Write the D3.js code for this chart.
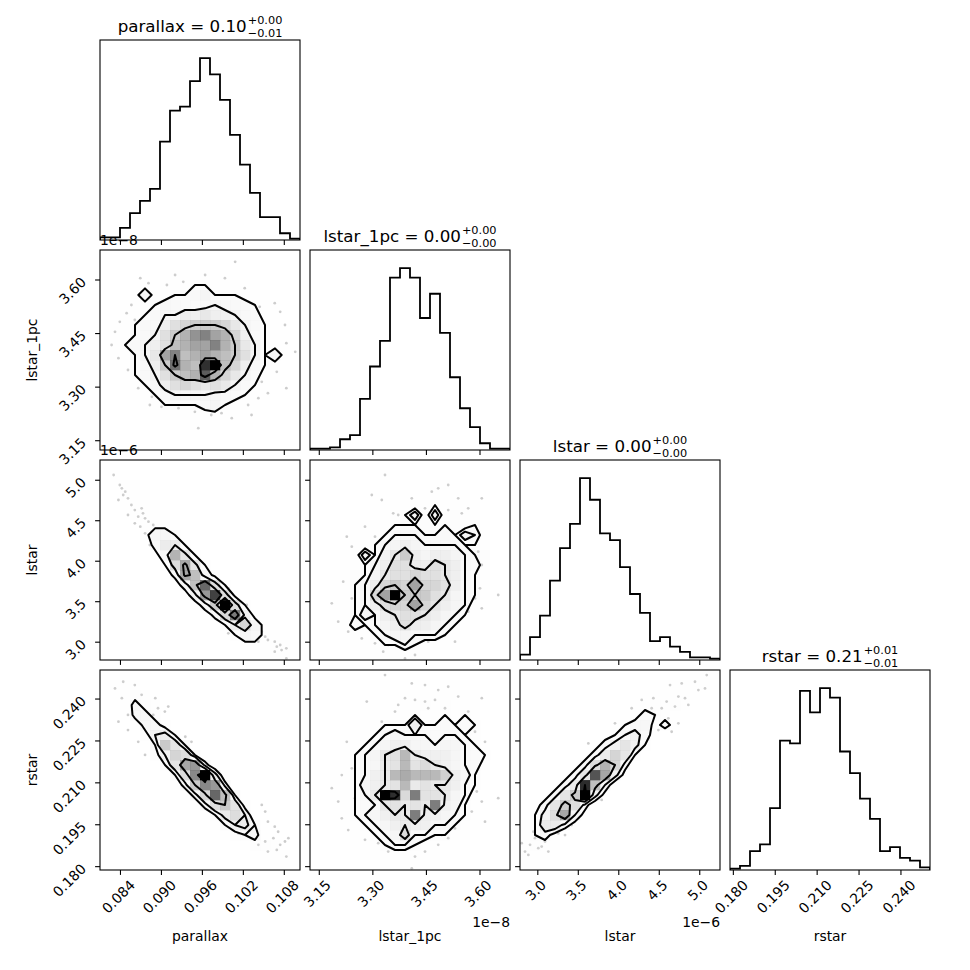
<!DOCTYPE html>
<html>
<head>
<meta charset="utf-8">
<script src="https://cdn.jsdelivr.net/npm/d3@7"></script>
<style>
  body { margin: 0; background: #fff; }
  svg text { font-family: "DejaVu Sans", sans-serif; fill: #000; }
</style>
</head>
<body>
<div id="chart"></div>
<script>
// ---- data ----
const labels = ["parallax", "lstar_1pc", "lstar", "rstar"];
// axis range of every parameter (lstar_1pc in 1e-8, lstar in 1e-6)
const ranges = [[0.0810, 0.1103], [3.124, 3.684], [2.78, 5.25], [0.1788, 0.2504]];
const ticks = [
  [0.084, 0.090, 0.096, 0.102, 0.108],
  [3.15, 3.30, 3.45, 3.60],
  [3.0, 3.5, 4.0, 4.5, 5.0],
  [0.180, 0.195, 0.210, 0.225, 0.240]
];
const tickDigits = [3, 2, 1, 3];
const offsetTexts = ["", "1e\u22128", "1e\u22126", ""];
const titleValues = ["0.10", "0.00", "0.00", "0.21"];
const titlePlus = ["+0.00", "+0.00", "+0.00", "+0.01"];
const titleMinus = ["\u22120.01", "\u22120.00", "\u22120.00", "\u22120.01"];

// 1d histogram counts, 20 bins each
const histParallax = [2, 2, 9, 20, 29, 38, 73, 96, 99, 118, 135, 123, 104, 78, 56, 35, 17, 17, 5, 1];
const histLstar1pc = [1, 1, 2, 8, 11, 38, 62, 81, 128, 135, 128, 98, 116, 87, 54, 31, 17, 5, 1, 1];
const histLstar = [4, 17, 33, 59, 83, 101, 135, 119, 94, 89, 69, 49, 35, 14, 17, 10, 6, 2, 2, 1];
const histRstar = [1, 3, 14, 19, 46, 96, 94, 133, 117, 135, 128, 88, 72, 53, 38, 14, 17, 9, 7, 2];

// 2d histogram counts, 20x20, rows listed from the top of the panel (high y) down
const gridParallaxLstar1pc = [
  [0,0,0,0,0,0,0,0,0,0,0,0,0,0,0,0,0,0,0,0],
  [0,0,0,0,0,0,0,0,0,0,1,0,0,0,0,0,0,0,0,0],
  [0,0,0,0,0,0,1,1,1,0,1,0,1,0,0,0,0,0,0,0],
  [0,0,0,0,1,0,1,1,1,2,2,1,1,1,0,1,0,0,0,0],
  [0,0,0,1,4,1,1,2,2,3,4,2,2,2,1,1,1,0,0,0],
  [0,0,1,1,1,2,3,3,3,3,3,4,3,3,3,2,1,1,0,0],
  [0,0,1,1,2,3,4,4,5,5,6,5,5,4,3,3,1,1,0,0],
  [0,1,1,2,3,3,5,7,8,9,9,9,8,6,4,3,2,1,0,0],
  [0,1,1,2,3,4,7,9,11,13,14,12,11,8,5,3,2,1,1,0],
  [0,1,2,3,4,5,7,10,11,12,12,14,11,9,6,4,2,1,0,0],
  [0,1,1,2,4,6,12,14,10,11,12,11,10,9,7,4,2,4,1,0],
  [0,1,1,2,3,5,9,15,11,10,18,20,10,8,5,3,2,1,0,0],
  [0,0,1,2,3,4,7,9,10,11,16,11,8,6,4,3,1,1,0,0],
  [0,0,1,1,2,3,5,7,8,7,6,7,6,4,3,2,1,0,0,0],
  [0,0,0,1,1,2,3,4,4,4,4,3,3,3,2,1,1,0,0,0],
  [0,0,0,0,1,1,2,2,2,2,3,4,2,1,1,1,0,0,0,0],
  [0,0,0,0,0,1,1,1,1,1,1,1,1,1,0,0,0,0,0,0],
  [0,0,0,0,0,0,0,1,0,1,0,1,0,0,0,0,0,0,0,0],
  [0,0,0,0,0,0,0,0,1,0,0,0,0,0,0,0,0,0,0,0],
  [0,0,0,0,0,0,0,0,0,0,0,0,0,0,0,0,0,0,0,0]
];
const gridParallaxLstar = [
  [0,0,0,0,0,0,0,0,0,0,0,0,0,0,0,0,0,0,0,0],
  [0,1,0,0,0,0,0,0,0,0,0,0,0,0,0,0,0,0,0,0],
  [0,1,1,1,0,0,0,0,0,0,0,0,0,0,0,0,0,0,0,0],
  [0,0,1,1,1,0,0,0,0,0,0,0,0,0,0,0,0,0,0,0],
  [0,0,1,1,1,1,0,0,0,0,0,0,0,0,0,0,0,0,0,0],
  [0,0,0,1,1,1,1,0,0,0,0,0,0,0,0,0,0,0,0,0],
  [0,0,0,0,1,1,1,1,0,0,0,0,0,0,0,0,0,0,0,0],
  [0,0,0,0,1,4,4,2,0,0,0,0,0,0,0,0,0,0,0,0],
  [0,0,0,0,0,3,6,6,2,0,0,0,0,0,0,0,0,0,0,0],
  [0,0,0,0,0,1,4,12,7,2,0,0,0,0,0,0,0,0,0,0],
  [0,0,0,0,0,0,2,8,13,7,2,0,0,0,0,0,0,0,0,0],
  [0,0,0,0,0,0,0,3,13,11,4,1,0,0,0,0,0,0,0,0],
  [0,0,0,0,0,0,0,0,4,11,17,8,2,0,0,0,0,0,0,0],
  [0,0,0,0,0,0,0,0,0,5,14,19,8,1,0,0,0,0,0,0],
  [0,0,0,0,0,0,0,0,0,0,4,10,22,8,2,0,0,0,0,0],
  [0,0,0,0,0,0,0,0,0,0,0,3,9,16,5,1,0,0,0,0],
  [0,0,0,0,0,0,0,0,0,0,0,0,2,6,9,4,1,0,0,0],
  [0,0,0,0,0,0,0,0,0,0,0,0,0,2,4,4,1,1,0,0],
  [0,0,0,0,0,0,0,0,0,0,0,0,0,0,1,1,1,1,1,0],
  [0,0,0,0,0,0,0,0,0,0,0,0,0,0,0,0,1,1,1,0]
];
const gridLstar1pcLstar = [
  [0,0,0,0,0,0,0,0,0,0,0,0,0,0,0,0,0,0,0,0],
  [0,0,0,0,0,0,0,1,0,0,0,0,0,0,0,0,0,0,0,0],
  [0,0,0,0,0,0,0,0,0,0,1,0,1,1,0,0,0,0,0,0],
  [0,0,0,0,0,0,0,0,1,1,0,1,1,0,1,1,0,0,0,0],
  [0,0,0,0,0,0,1,0,1,1,1,1,2,1,1,1,1,0,0,0],
  [0,0,0,0,0,1,0,1,1,2,4,1,4,1,2,1,1,0,0,0],
  [0,0,0,0,1,1,1,1,2,2,2,2,2,2,2,1,2,0,0,0],
  [0,0,0,0,1,1,1,2,3,3,3,2,2,3,2,4,3,1,0,0],
  [0,0,0,0,1,1,2,3,4,5,4,3,3,3,3,2,2,1,0,0],
  [0,0,0,1,1,4,2,4,6,9,5,4,5,5,4,3,2,2,0,0],
  [0,0,0,1,1,2,3,5,7,7,5,5,7,6,5,3,3,1,0,0],
  [0,0,1,1,2,2,4,6,7,7,8,7,7,6,5,3,2,1,0,0],
  [0,0,1,1,2,3,5,8,9,8,12,8,8,7,5,3,2,1,0,0],
  [0,0,1,1,2,3,8,12,20,9,9,9,7,6,4,3,2,1,0,0],
  [0,0,1,1,2,3,5,7,8,8,12,8,6,5,4,3,1,0,1,0],
  [0,0,0,1,2,4,3,5,6,7,7,6,5,4,3,2,1,0,0,0],
  [0,0,1,1,3,2,3,4,5,7,5,5,4,3,2,1,1,0,0,0],
  [0,0,0,1,1,1,2,3,4,4,3,3,3,2,1,1,0,0,0,0],
  [0,0,0,0,1,1,1,2,2,3,2,1,1,1,1,0,0,0,0,0],
  [0,0,0,0,0,1,1,1,1,1,1,1,0,0,0,0,0,0,0,0]
];
const gridParallaxRstar = [
  [0,0,1,0,0,0,0,0,0,0,0,0,0,0,0,0,0,0,0,0],
  [0,1,1,1,0,0,0,0,0,0,0,0,0,0,0,0,0,0,0,0],
  [0,0,1,2,1,0,0,0,0,0,0,0,0,0,0,0,0,0,0,0],
  [0,0,1,4,2,1,0,0,0,0,0,0,0,0,0,0,0,0,0,0],
  [0,0,0,4,4,2,0,0,0,0,0,0,0,0,0,0,0,0,0,0],
  [0,0,0,1,4,4,2,0,0,0,0,0,0,0,0,0,0,0,0,0],
  [0,0,0,0,2,5,6,3,0,0,0,0,0,0,0,0,0,0,0,0],
  [0,0,0,0,1,3,10,7,3,0,0,0,0,0,0,0,0,0,0,0],
  [0,0,0,0,0,2,5,9,8,3,1,0,0,0,0,0,0,0,0,0],
  [0,0,0,0,0,0,3,7,13,14,4,1,0,0,0,0,0,0,0,0],
  [0,0,0,0,0,0,0,3,8,15,22,6,1,0,0,0,0,0,0,0],
  [0,0,0,0,0,0,0,1,4,10,15,14,4,0,0,0,0,0,0,0],
  [0,0,0,0,0,0,0,0,1,4,9,17,11,3,0,0,0,0,0,0],
  [0,0,0,0,0,0,0,0,0,1,4,8,10,7,2,0,0,0,0,0],
  [0,0,0,0,0,0,0,0,0,0,1,3,6,8,5,1,0,0,0,0],
  [0,0,0,0,0,0,0,0,0,0,0,1,3,5,6,3,0,0,0,0],
  [0,0,0,0,0,0,0,0,0,0,0,0,1,2,3,4,1,0,0,0],
  [0,0,0,0,0,0,0,0,0,0,0,0,0,0,1,2,2,1,0,0],
  [0,0,0,0,0,0,0,0,0,0,0,0,0,0,0,1,1,1,1,0],
  [0,0,0,0,0,0,0,0,0,0,0,0,0,0,0,0,0,1,1,0]
];
const gridLstar1pcRstar = [
  [0,0,0,0,0,0,0,0,0,0,0,0,0,0,0,0,0,0,0,0],
  [0,0,0,0,0,0,0,1,0,0,0,1,0,1,1,0,0,0,0,0],
  [0,0,0,0,0,1,0,0,0,1,1,1,1,1,1,1,1,0,0,0],
  [0,0,0,0,0,0,1,0,1,1,1,2,1,2,1,1,1,0,0,0],
  [0,0,0,0,0,1,1,1,1,2,2,1,2,2,1,2,1,0,0,0],
  [0,0,0,0,1,1,2,2,2,2,5,2,2,3,2,3,2,0,0,0],
  [0,0,0,1,1,2,2,3,4,3,3,3,3,3,3,2,2,1,0,0],
  [0,0,0,1,1,2,3,4,5,5,4,4,3,4,4,3,2,1,0,0],
  [0,0,0,1,2,3,4,6,7,11,6,5,5,5,4,3,3,2,0,0],
  [0,0,1,1,2,3,4,6,7,11,7,8,6,5,4,3,3,1,0,0],
  [0,0,1,1,2,3,5,6,11,12,11,11,11,9,5,4,2,1,0,0],
  [0,0,1,1,2,4,5,6,7,11,6,7,6,6,5,3,2,1,0,0],
  [0,0,1,1,2,3,6,21,19,8,15,7,7,6,4,3,1,0,0,0],
  [0,0,0,1,2,3,3,6,7,6,7,6,15,5,4,2,1,0,0,0],
  [0,0,1,1,2,3,4,5,6,6,15,5,5,4,3,2,1,0,0,0],
  [0,0,0,1,1,2,3,4,5,6,5,5,3,3,2,1,1,0,0,0],
  [0,0,0,0,1,1,2,3,4,8,3,3,2,2,1,1,0,0,0,0],
  [0,0,0,0,1,1,1,2,3,3,2,1,1,1,1,0,0,0,0,0],
  [0,0,0,0,0,1,1,1,1,1,1,1,1,0,0,0,0,0,0,0],
  [0,0,0,0,0,0,0,1,0,1,0,0,1,0,0,0,0,0,0,0]
];
const gridLstarRstar = [
  [0,0,0,0,0,0,0,0,0,0,0,0,0,0,0,0,0,1,1,1],
  [0,0,0,0,0,0,0,0,0,0,0,0,0,0,1,1,1,1,1,0],
  [0,0,0,0,0,0,0,0,0,0,0,0,1,1,1,1,1,1,0,0],
  [0,0,0,0,0,0,0,0,0,0,0,1,1,2,1,2,1,0,0,0],
  [0,0,0,0,0,0,0,0,0,0,1,1,3,2,1,1,0,0,0,0],
  [0,0,0,0,0,0,0,0,0,1,2,3,4,1,3,1,0,0,0,0],
  [0,0,0,0,0,0,0,0,1,2,4,5,3,1,0,0,0,0,0,0],
  [0,0,0,0,0,0,0,1,3,5,7,5,2,0,0,0,0,0,0,0],
  [0,0,0,0,0,0,1,3,6,9,7,2,0,0,0,0,0,0,0,0],
  [0,0,0,0,0,1,3,8,12,9,3,0,0,0,0,0,0,0,0,0],
  [0,0,0,0,1,3,7,18,13,5,1,0,0,0,0,0,0,0,0,0],
  [0,0,0,1,3,6,20,11,4,0,0,0,0,0,0,0,0,0,0,0],
  [0,0,1,3,7,10,22,5,1,0,0,0,0,0,0,0,0,0,0,0],
  [0,1,3,7,10,8,3,0,0,0,0,0,0,0,0,0,0,0,0,0],
  [0,2,5,8,13,4,1,0,0,0,0,0,0,0,0,0,0,0,0,0],
  [1,2,6,6,3,1,0,0,0,0,0,0,0,0,0,0,0,0,0,0],
  [1,2,3,1,0,0,0,0,0,0,0,0,0,0,0,0,0,0,0,0],
  [1,2,1,1,0,0,0,0,0,0,0,0,0,0,0,0,0,0,0,0],
  [1,1,1,0,0,0,0,0,0,0,0,0,0,0,0,0,0,0,0,0],
  [1,1,0,0,0,0,0,0,0,0,0,0,0,0,0,0,0,0,0,0]
];

// faint samples outside the outer contour, [x, y] in axis units
const ptsParallaxLstar1pc = [
  [0.0869,3.605],[0.0881,3.591],[0.0908,3.586],[0.0920,3.614],[0.0932,3.595],[0.0964,3.614],
  [0.0993,3.605],[0.1008,3.651],[0.1022,3.577],[0.1044,3.525],[0.1066,3.535],[0.1074,3.511],
  [0.1081,3.474],[0.1083,3.423],[0.1096,3.399],[0.1069,3.343],[0.1083,3.297],[0.1056,3.283],
  [0.1042,3.269],[0.1027,3.250],[0.1032,3.222],[0.1003,3.213],[0.0988,3.227],[0.0973,3.222],
  [0.0954,3.185],[0.0949,3.231],[0.0925,3.241],[0.0900,3.245],[0.0886,3.273],[0.0866,3.297],
  [0.0871,3.325],[0.0851,3.348],[0.0837,3.381],[0.0827,3.418],[0.0832,3.455],[0.0839,3.483],
  [0.0849,3.507],[0.0856,3.530],[0.0861,3.488],[0.0876,3.390],[0.0883,3.250],[0.1047,3.315],
  [0.0939,3.269]
];
const ptsParallaxLstar = [
  [0.0830,5.065],[0.0839,4.941],[0.0842,4.900],[0.0847,4.859],[0.0844,4.818],[0.0837,4.756],
  [0.0851,4.777],[0.0856,4.694],[0.0861,4.632],[0.0871,4.653],[0.0873,4.591],[0.0876,4.530],
  [0.0866,4.550],[0.0851,4.571],[0.0861,4.468],[0.0869,4.427],[0.0881,4.488],[0.0876,4.344],
  [0.0883,4.200],[0.0888,4.447],[0.0998,3.665],[0.1008,3.171],[0.1032,3.068],[0.1047,3.130],
  [0.1052,3.068],[0.1056,3.027],[0.1066,3.006],[0.1069,2.944],[0.1074,2.965],[0.1076,2.903],
  [0.1083,2.924],[0.1066,2.883],[0.1083,2.800],[0.1042,3.006],[0.1025,3.459],[0.0998,3.109]
];
const ptsLstar1pcLstar = [
  [3.334,5.065],[3.297,4.818],[3.325,4.756],[3.357,4.591],[3.371,4.571],[3.409,4.777],
  [3.465,4.859],[3.483,4.900],[3.511,4.941],[3.539,4.777],[3.567,4.653],[3.549,4.591],
  [3.605,4.777],[3.511,4.632],[3.446,4.653],[3.278,4.427],[3.306,4.303],[3.227,4.303],
  [3.241,4.180],[3.595,4.118],[3.605,3.953],[3.577,3.830],[3.600,3.665],[3.651,3.583],
  [3.586,3.541],[3.567,3.377],[3.605,3.418],[3.521,3.253],[3.502,3.089],[3.455,3.006],
  [3.418,2.842],[3.343,2.965],[3.306,2.986],[3.269,3.047],[3.231,3.130],[3.203,3.253],
  [3.185,3.480],[3.217,3.747],[3.241,3.541],[3.297,3.171],[3.390,2.800],[3.530,3.006],
  [3.329,2.883]
];
const ptsParallaxRstar = [
  [0.0844,0.2462],[0.0832,0.2438],[0.0842,0.2403],[0.0861,0.2450],[0.0871,0.2415],[0.0891,0.2403],
  [0.0895,0.2367],[0.0905,0.2355],[0.0910,0.2373],[0.0888,0.2343],[0.0837,0.2319],[0.0851,0.2289],
  [0.0866,0.2247],[0.0876,0.2200],[0.0893,0.2277],[0.0920,0.2188],[0.0935,0.2265],[0.0944,0.2247],
  [0.0851,0.2343],[0.1013,0.1985],[0.1025,0.1961],[0.1047,0.2021],[0.1052,0.1997],[0.1056,0.1961],
  [0.1066,0.1943],[0.1071,0.1925],[0.1064,0.1902],[0.1074,0.1878],[0.1081,0.1890],[0.1052,0.1890],
  [0.1042,0.1878],[0.1056,0.1854],[0.1069,0.1860],[0.1083,0.1836],[0.1027,0.1913],[0.1086,0.1902],
  [0.1013,0.1919],[0.1018,0.1937]
];
const ptsLstar1pcRstar = [
  [3.334,0.2486],[3.409,0.2456],[3.446,0.2450],[3.483,0.2432],[3.511,0.2444],[3.539,0.2409],
  [3.605,0.2403],[3.390,0.2403],[3.418,0.2397],[3.446,0.2391],[3.474,0.2397],[3.502,0.2367],
  [3.455,0.2367],[3.371,0.2379],[3.362,0.2355],[3.283,0.2391],[3.325,0.2319],[3.567,0.2355],
  [3.586,0.2283],[3.614,0.2247],[3.605,0.2176],[3.591,0.2069],[3.651,0.2045],[3.605,0.2033],
  [3.577,0.1997],[3.614,0.1961],[3.539,0.1961],[3.530,0.1937],[3.511,0.1902],[3.483,0.1878],
  [3.446,0.1854],[3.418,0.1836],[3.371,0.1860],[3.315,0.1884],[3.278,0.1896],[3.231,0.1931],
  [3.213,0.1973],[3.203,0.2033],[3.185,0.2081],[3.213,0.2128],[3.241,0.2152],[3.227,0.2247],
  [3.250,0.2045],[3.343,0.1854],[3.409,0.1794],[3.493,0.1913]
];
const ptsLstarRstar = [
  [5.086,0.2486],[4.941,0.2462],[4.777,0.2456],[4.633,0.2450],[4.983,0.2432],[5.065,0.2438],
  [4.736,0.2409],[4.818,0.2403],[4.859,0.2379],[4.694,0.2373],[4.591,0.2391],[4.530,0.2367],
  [4.406,0.2367],[4.283,0.2397],[4.159,0.2367],[4.447,0.2343],[4.612,0.2331],[4.736,0.2313],
  [4.489,0.2289],[4.365,0.2259],[4.283,0.2241],[4.653,0.2283],[3.953,0.2313],[3.624,0.2241],
  [4.427,0.2403],[2.801,0.1884],[2.904,0.1878],[2.883,0.1842],[2.965,0.1902],[3.006,0.1866],
  [3.048,0.1872],[3.089,0.1890],[3.130,0.1854],[3.171,0.1925],[3.253,0.1919],[3.048,0.1937],
  [2.945,0.1925],[2.842,0.1854],[3.336,0.1913],[3.418,0.1949],[3.789,0.2039],[3.212,0.1955]
];

const hists = [histParallax, histLstar1pc, histLstar, histRstar];
const pairs = [
  { row: 1, col: 0, grid: gridParallaxLstar1pc, pts: ptsParallaxLstar1pc },
  { row: 2, col: 0, grid: gridParallaxLstar, pts: ptsParallaxLstar },
  { row: 2, col: 1, grid: gridLstar1pcLstar, pts: ptsLstar1pcLstar },
  { row: 3, col: 0, grid: gridParallaxRstar, pts: ptsParallaxRstar },
  { row: 3, col: 1, grid: gridLstar1pcRstar, pts: ptsLstar1pcRstar },
  { row: 3, col: 2, grid: gridLstarRstar, pts: ptsLstarRstar }
];

// ---- layout ----
const chartW = 970, chartH = 970;
const size = 200, gap = 10, marginLeft = 100, marginTop = 40;
const tickFont = "13.9px", tickLen = 4.9;
const px = i => marginLeft + i * (size + gap);
const py = j => marginTop + j * (size + gap);

const svg = d3.select("#chart").append("svg")
  .attr("width", chartW)
  .attr("height", chartH);

const xScales = ranges.map((r, i) => d3.scaleLinear().domain(r).range([px(i), px(i) + size]));
const yScales = ranges.map((r, j) => d3.scaleLinear().domain(r).range([py(j) + size, py(j)]));

const defs = svg.append("defs");
function clipFor(row, col) {
  const id = `clip-${row}-${col}`;
  if (defs.select(`#${id}`).empty()) {
    defs.append("clipPath").attr("id", id)
      .append("rect").attr("x", px(col)).attr("y", py(row)).attr("width", size).attr("height", size);
  }
  return `url(#${id})`;
}

// corner's default sigma levels
const sigmaLevels = [0.5, 1, 1.5, 2].map(s => 1 - Math.exp(-0.5 * s * s));

function contourLevels(flat) {
  const sorted = flat.slice().sort((a, b) => b - a);
  const total = d3.sum(sorted);
  let cum = 0;
  const sm = sorted.map(v => (cum += v) / total);
  const V = sigmaLevels.map(l => {
    let val = sorted[0];
    for (let k = 0; k < sorted.length; k++) if (sm[k] <= l) val = sorted[k];
    return val;
  }).sort((a, b) => a - b);
  let guard = 0;
  for (let k = 1; k < V.length && guard < 50; k++) {
    if (V[k] === V[k - 1]) { V[k - 1] *= 1 - 1e-4; V.sort((a, b) => a - b); k = 0; guard++; }
  }
  return V;
}

function drawPair(p) {
  const { row, col, grid, pts } = p;
  const xs = xScales[col], ys = yScales[row];
  const [xlo, xhi] = ranges[col], [ylo, yhi] = ranges[row];
  const n = grid.length;
  const dx = (xhi - xlo) / n, dy = (yhi - ylo) / n;
  const Hm = grid.slice().reverse();          // Hm[j][i], j counted from the bottom
  const flat = Hm.flat();
  const hmax = d3.max(flat);
  // a bin equal to a level counts as below it, as in matplotlib's contour
  const V = contourLevels(flat).map(v => v + 1e-6);

  // padded grid like corner (two extra bins each side)
  const m = n + 4;
  const pad = new Array(m * m).fill(0);
  const clampIdx = k => Math.max(0, Math.min(n - 1, k));
  for (let jj = 1; jj < m - 1; jj++) {
    for (let ii = 1; ii < m - 1; ii++) {
      pad[jj * m + ii] = Hm[clampIdx(jj - 2)][clampIdx(ii - 2)];
    }
  }
  const toPx = d3.geoTransform({
    point(x, y) { this.stream.point(xs(xlo + (x - 2) * dx), ys(ylo + (y - 2) * dy)); }
  });
  const path = d3.geoPath(toPx);
  const contours = d3.contours().size([m, m]);

  const g = svg.append("g").attr("clip-path", clipFor(row, col));

  g.append("g").selectAll("circle")
    .data(pts)
    .join("circle")
      .attr("cx", d => xs(d[0]))
      .attr("cy", d => ys(d[1]))
      .attr("r", 1.4)
      .attr("fill", "#000")
      .attr("fill-opacity", 0.2);

  g.append("path")
    .attr("d", path(contours.contour(pad, V[0])))
    .attr("fill", "#fff");

  const cells = [];
  Hm.forEach((rowVals, j) => rowVals.forEach((v, i) => { if (v > 0) cells.push({ i, j, v }); }));
  g.append("g").selectAll("rect")
    .data(cells)
    .join("rect")
      .attr("x", d => xs(xlo + d.i * dx))
      .attr("y", d => ys(ylo + (d.j + 1) * dy))
      .attr("width", d => xs(xlo + (d.i + 1) * dx) - xs(xlo + d.i * dx) + 0.3)
      .attr("height", d => ys(ylo + d.j * dy) - ys(ylo + (d.j + 1) * dy) + 0.3)
      .attr("fill", d => { const c = Math.round(255 * (1 - d.v / hmax)); return `rgb(${c},${c},${c})`; })
      .attr("fill-opacity", d => d.v / hmax);

  g.append("g").selectAll("path")
    .data(V)
    .join("path")
      .attr("d", v => path(contours.contour(pad, v)))
      .attr("fill", "none")
      .attr("stroke", "#000")
      .attr("stroke-width", 2)
      .attr("stroke-linejoin", "round");
}

function drawHist(k) {
  const counts = hists[k];
  const xs = xScales[k];
  const [lo, hi] = ranges[k];
  const nb = counts.length;
  const edges = d3.range(nb + 1).map(i => lo + i * (hi - lo) / nb);
  const ys = d3.scaleLinear().domain([0, 1.1 * d3.max(counts)]).range([py(k) + size, py(k)]);
  const steps = [[edges[0], 0]];
  counts.forEach((c, i) => steps.push([edges[i], c], [edges[i + 1], c]));
  steps.push([edges[nb], 0]);
  svg.append("path")
    .attr("clip-path", clipFor(k, k))
    .attr("d", d3.line().x(d => xs(d[0])).y(d => ys(d[1]))(steps))
    .attr("fill", "none")
    .attr("stroke", "#000")
    .attr("stroke-width", 1.8);

  // title with the +/- scripts stacked
  const base = py(k) - 8.3;
  const tg = svg.append("g");
  const main = tg.append("text").attr("y", base).style("font-size", "16.7px")
    .text(`${labels[k]} = ${titleValues[k]}`);
  const w = main.node().getComputedTextLength() + 1;
  const sup = tg.append("text").attr("x", w).attr("y", base - 7.8).style("font-size", "11.3px").text(titlePlus[k]);
  const sub = tg.append("text").attr("x", w).attr("y", base + 5.2).style("font-size", "11.3px").text(titleMinus[k]);
  const tw = w + Math.max(sup.node().getComputedTextLength(), sub.node().getComputedTextLength());
  tg.attr("transform", `translate(${px(k) + size / 2 - tw / 2},0)`);
}

function drawFrame(row, col) {
  const g = svg.append("g");
  const xs = xScales[col];
  const x0 = px(col), y0 = py(row);
  g.append("rect").attr("x", x0).attr("y", y0).attr("width", size).attr("height", size)
    .attr("fill", "none").attr("stroke", "#000").attr("stroke-width", 1.1);
  g.selectAll("line.xt").data(ticks[col]).join("line").attr("class", "xt")
    .attr("x1", d => xs(d)).attr("x2", d => xs(d))
    .attr("y1", y0 + size).attr("y2", y0 + size + tickLen)
    .attr("stroke", "#000").attr("stroke-width", 1.1);
  if (row !== col) {
    const ys = yScales[row];
    g.selectAll("line.yt").data(ticks[row]).join("line").attr("class", "yt")
      .attr("y1", d => ys(d)).attr("y2", d => ys(d))
      .attr("x1", x0 - tickLen).attr("x2", x0)
      .attr("stroke", "#000").attr("stroke-width", 1.1);
  }
}

pairs.forEach(drawPair);
d3.range(4).forEach(drawHist);
for (let r = 0; r < 4; r++) for (let c = 0; c <= r; c++) drawFrame(r, c);

// bottom tick labels, axis labels and offset texts
const bottomY = py(3) + size;
d3.range(4).forEach(c => {
  const xs = xScales[c];
  const fmt = d3.format(`.${tickDigits[c]}f`);
  svg.append("g").selectAll("text")
    .data(ticks[c])
    .join("text")
      .style("font-size", tickFont)
      .attr("text-anchor", "end")
      .text(d => fmt(d))
      .each(function (d) {
        const L = this.getComputedTextLength();
        const x = xs(d) + L * 0.3536 + 1.5, y = bottomY + 16;
        d3.select(this).attr("transform", `translate(${x},${y}) rotate(-45)`);
      });
  svg.append("text")
    .attr("x", px(c) + size / 2).attr("y", bottomY + 71)
    .attr("text-anchor", "middle").style("font-size", tickFont)
    .text(labels[c]);
  if (offsetTexts[c]) {
    svg.append("text")
      .attr("x", px(c) + size).attr("y", bottomY + 57)
      .attr("text-anchor", "end").style("font-size", tickFont)
      .text(offsetTexts[c]);
  }
});

// left tick labels for the 2d rows
d3.range(1, 4).forEach(r => {
  const ys = yScales[r];
  const fmt = d3.format(`.${tickDigits[r]}f`);
  svg.append("g").selectAll("text")
    .data(ticks[r])
    .join("text")
      .style("font-size", tickFont)
      .attr("text-anchor", "end")
      .attr("transform", d => `translate(${marginLeft - 13},${ys(d) + 3}) rotate(-45)`)
      .text(d => fmt(d));
  svg.append("text")
    .attr("transform", `translate(37,${py(r) + size / 2}) rotate(-90)`)
    .attr("text-anchor", "middle").style("font-size", tickFont)
    .text(labels[r]);
  if (offsetTexts[r]) {
    svg.append("text")
      .attr("x", marginLeft).attr("y", py(r) - 5)
      .style("font-size", tickFont)
      .text(offsetTexts[r]);
  }
});
</script>
</body>
</html>
